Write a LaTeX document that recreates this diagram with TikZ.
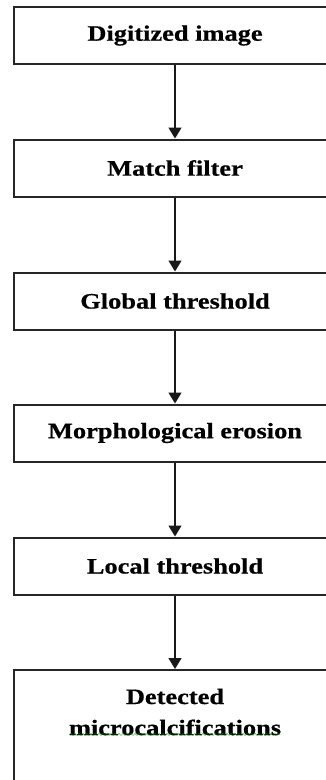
\documentclass[tikz,border=0pt]{standalone}
\usepackage{fontspec}
\setmainfont{Liberation Serif}[FakeStretch=1.2,FakeBold=0.6]
\usetikzlibrary{arrows.meta,decorations.pathmorphing}
\begin{document}
\begin{tikzpicture}[x=1pt,y=-1pt,
  stage/.style={draw=black!85, line width=2pt, minimum width=322pt,
    minimum height=57pt, inner sep=0pt, align=center,
    font=\fontsize{22}{31}\selectfont\bfseries},
  caption/.style={inner sep=0pt, align=center,
    font=\fontsize{22}{31}\selectfont\bfseries},
  flow/.style={-{Triangle[length=11pt,width=13pt]}, line width=1.5pt, draw=black!90},
  squiggle/.style={draw=green!55!black, opacity=0.6, line width=0.6pt,
    decorate, decoration={snake, amplitude=1.1pt, segment length=4pt}}]
\useasboundingbox (0,0) rectangle (326,780);
\clip (0,0) rectangle (326,780);
\fill[white] (0,0) rectangle (326,780);

% processing stages
\node[stage] (a) at (175,35.5) {Digitized image};
\node[stage] (b) at (175,168)  {Match filter};
\node[stage] (c) at (175,301)  {Global threshold};
\node[stage] (d) at (175,433)  {Morphological erosion};
\node[stage] (e) at (175,566)  {Local threshold};
\node[stage, minimum height=140pt, anchor=north] (f) at (175,669) {};
\node[caption] (ft) at ([yshift=-43pt]f.north) {Detected\\microcalcifications};

% spell-check underline under the last word
\draw[squiggle] ([xshift=1pt,yshift=1pt]ft.south west) -- ([xshift=-1pt,yshift=1pt]ft.south east);

% connectors
\draw[flow] (a.south) -- (b.north);
\draw[flow] (b.south) -- (c.north);
\draw[flow] (c.south) -- (d.north);
\draw[flow] (d.south) -- (e.north);
\draw[flow] (e.south) -- (f.north);
\end{tikzpicture}
\end{document}
